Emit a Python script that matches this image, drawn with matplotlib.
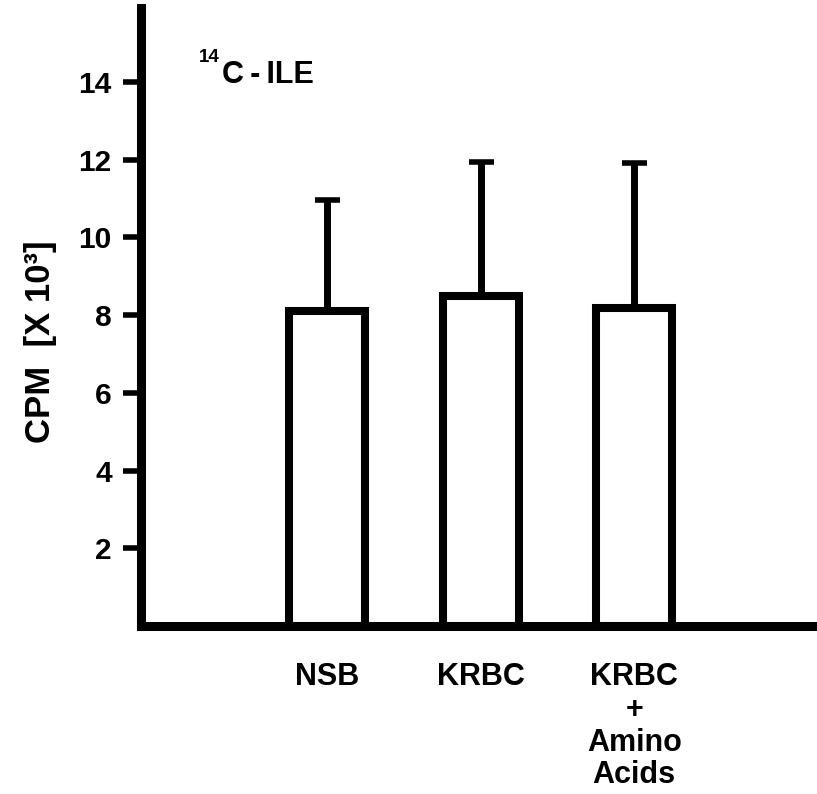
import matplotlib.pyplot as plt

# values (CPM x 10^3)
groups = ["NSB", "KRBC", "KRBC\n+\nAmino\nAcids"]
means = [8.10, 8.50, 8.17]
errors = [2.85, 3.45, 3.73]
yticks = [2, 4, 6, 8, 10, 12, 14]

plt.rcParams["font.family"] = ["Liberation Sans", "DejaVu Sans"]
plt.rcParams["font.weight"] = "bold"

fig = plt.figure(figsize=(8.17, 7.94), dpi=100)
ax = fig.add_axes([0.1726, 0.2116, 0.8274, 0.7783])

xpos = list(range(len(groups)))
ax.bar(xpos, means, width=0.495, color="white", edgecolor="black",
       linewidth=5.8, zorder=2)
ax.errorbar(xpos, means, yerr=[[0] * len(errors), errors], fmt="none",
            ecolor="black", elinewidth=5, capsize=9, capthick=4, zorder=1)

ax.set_xlim(-1.21, 3.19)
ax.set_ylim(0, 15.9)

for side in ["top", "right"]:
    ax.spines[side].set_visible(False)
for side in ["left", "bottom"]:
    ax.spines[side].set_linewidth(6.5)
    ax.spines[side].set_capstyle("projecting")

ax.set_yticks(yticks)
ax.set_yticklabels([str(t) for t in yticks], fontsize=21.5, fontweight="bold")
ax.tick_params(axis="y", length=13, width=4, pad=8, direction="out")

ax.set_xticks(xpos)
ax.set_xticklabels(groups, fontsize=22, fontweight="bold", linespacing=1.12)
ax.tick_params(axis="x", length=0, pad=26)

ax.set_ylabel("CPM  [X 10\u00b3]", fontsize=25, fontweight="bold", va="center")
ax.yaxis.set_label_coords(-0.149, 0.46)

ax.text(0.117, 0.913, "14", transform=ax.transAxes, ha="right",
        va="baseline", fontsize=13.5, fontweight="bold")
ax.text(0.12, 0.879, "C\u2009-\u2009ILE", transform=ax.transAxes, ha="left",
        va="baseline", fontsize=22, fontweight="bold")

fig.savefig("out.png", dpi=100, facecolor="white")
